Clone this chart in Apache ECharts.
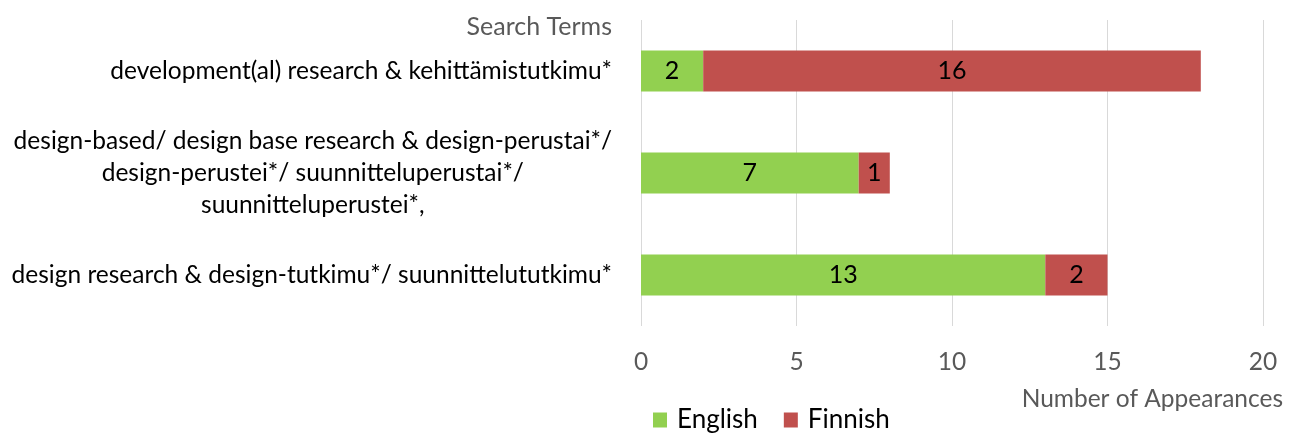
<!DOCTYPE html>
<html><head><meta charset="utf-8">
<script src="https://cdn.jsdelivr.net/npm/echarts@6/dist/echarts.min.js"></script>
<style>html,body{margin:0;padding:0;background:#fff}#c{width:1297px;height:433px}</style>
</head><body><div id="c"></div>
<script>
const categories = [
  "development(al) research & kehittämistutkimu*",
  "design-based/ design base research & design-perustai*/\ndesign-perustei*/ suunnitteluperustai*/\nsuunnitteluperustei*,",
  "design research & design-tutkimu*/ suunnittelututkimu*"
];
const english = [2, 7, 13];
const finnish = [16, 1, 2];
const xTicks = [0, 5, 10, 15, 20];

const FONT = 'Lato';
const chart = echarts.init(document.getElementById('c'));
chart.setOption({
  animation: false,
  textStyle: {fontFamily: FONT},
  grid: {left: 641, right: 34, top: 20, bottom: 107, containLabel: false},
  legend: {
    data: ['English', 'Finnish'], left: 648, bottom: -5,
    itemWidth: 14, itemHeight: 15, itemGap: 26,
    icon: 'rect',
    textStyle: {fontFamily: FONT, fontSize: 26, color: '#000', padding: [0,0,0,5]}
  },
  xAxis: {
    type: 'value', min: xTicks[0], max: xTicks[xTicks.length-1], interval: 5,
    name: 'Number of Appearances', nameLocation: 'end', nameGap: 20,
    nameTextStyle: {fontFamily: FONT, fontSize: 24.5, color: '#595959', align: 'right', verticalAlign: 'top', padding: [61,0,0,0]},
    axisLine: {show: false}, axisTick: {show: false},
    axisLabel: {fontFamily: FONT, fontSize: 24.5, color: '#595959', margin: 24},
    splitLine: {lineStyle: {color: '#D9D9D9', width: 1}}
  },
  yAxis: {
    type: 'category', inverse: true, data: categories,
    name: 'Search Terms', nameLocation: 'start', nameGap: -7,
    nameTextStyle: {fontFamily: FONT, fontSize: 25, color: '#595959', align: 'right', verticalAlign: 'middle', padding: [0, 29, 0, 0]},
    axisLine: {show: false}, axisTick: {show: false},
    axisLabel: {
      margin: 29, align: 'right',
      formatter: v => v.split('\n').map(s => '{c|' + s + '}').join('\n'),
      rich: {c: {fontFamily: FONT, fontSize: 24.5, color: '#000', align: 'center', lineHeight: 32}}
    }
  },
  series: [
    {name: 'English', type: 'bar', stack: 'a', data: english, barWidth: '40%',
     itemStyle: {color: '#92D050'},
     label: {show: true, position: 'inside', color: '#000', fontFamily: FONT, fontSize: 25}},
    {name: 'Finnish', type: 'bar', stack: 'a', data: finnish, barWidth: '40%',
     itemStyle: {color: '#C0504D'},
     label: {show: true, position: 'inside', color: '#000', fontFamily: FONT, fontSize: 25}}
  ]
});
</script></body></html>
